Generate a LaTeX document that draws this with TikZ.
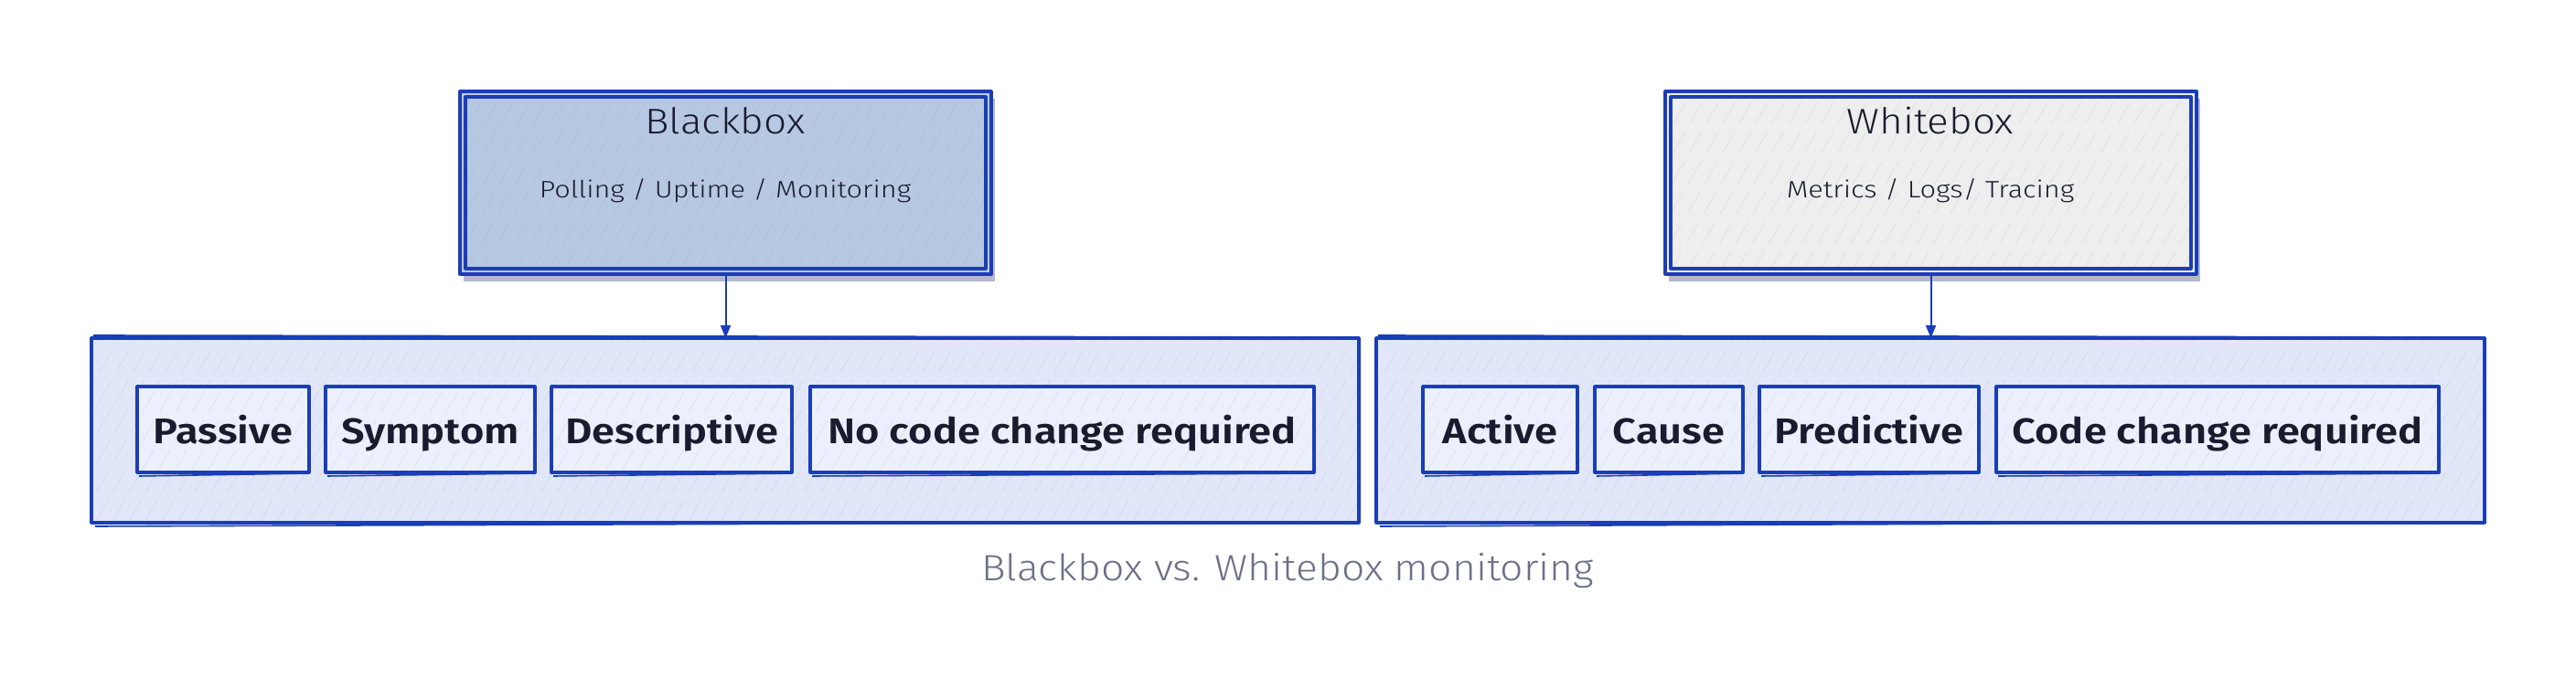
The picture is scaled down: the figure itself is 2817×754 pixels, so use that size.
\documentclass[tikz,border=0pt]{standalone}
\usepackage{fontspec}
\setmainfont{Fira Sans}
\newfontfamily\lblfont{Fira Sans SemiBold}[FakeStretch=1.16]
\newfontfamily\ttlfont{Fira Sans Light}[FakeStretch=1.13]
\newfontfamily\subfont{Fira Sans Light}[FakeStretch=1.18]
\newfontfamily\captfont{Fira Sans Light}[FakeStretch=1.11]
\usetikzlibrary{fit,arrows.meta}
\definecolor{strokec}{HTML}{1A3DB8}
\definecolor{bbfill}{HTML}{B7C8E2}
\definecolor{wbfill}{HTML}{EEEEEE}
\definecolor{cfill}{HTML}{E1E7F9}
\definecolor{ifill}{HTML}{EBF0FC}
\definecolor{shadowc}{HTML}{B4B8CC}
\definecolor{txtc}{HTML}{1B1B2F}
\definecolor{captc}{HTML}{6B7088}
\newcommand{\myhachure}[5]{%
  \begin{scope}
    \clip (#1,#2) rectangle (#3,#4);
    \pgfmathtruncatemacro{\hsa}{#1-320}
    \pgfmathtruncatemacro{\hsb}{#1-302}
    \foreach \i in {\hsa,\hsb,...,#3}
      \draw[draw=#5, line width=0.35pt, opacity=0.4, dash pattern=on 14pt off 5pt] (\i,#4) -- ++(300,-520);
  \end{scope}}
\begin{document}
\begin{tikzpicture}[x=0.5pt,y=-0.5pt,
  frame/.style={inner sep=0pt, outer sep=0pt},
  edge/.style={draw=strokec, line width=1.6pt, line join=round},
  thinedge/.style={draw=strokec, line width=0.8pt, line join=round},
  ttl/.style={font=\ttlfont\fontsize{19.5}{22}\selectfont, text=txtc, inner sep=0pt},
  sub/.style={font=\subfont\fontsize{13}{15}\selectfont, text=txtc, inner sep=0pt},
  lbl/.style={font=\lblfont\fontsize{19.5}{22}\selectfont, text=txtc, inner sep=0pt},
  capt/.style={font=\captfont\fontsize{20}{24}\selectfont, text=captc, inner sep=0pt},
  arr/.style={draw=strokec, line width=1pt, -{Triangle[length=7pt,width=5.5pt]}}]
\useasboundingbox (0,0) rectangle (2817,754);
\fill[white] (0,0) rectangle (2817,754);

% ---------- top boxes ----------
\fill[shadowc] (507,108) rectangle (1088,308);
\fill[shadowc] (1825,108) rectangle (2406,308);
\node[frame, fill=bbfill, fit={(503,100) (1084,300)}] (bb) {};
\node[frame, fill=wbfill, fit={(1821,100) (2402,300)}] (wb) {};
\myhachure{503}{100}{1084}{300}{white!45!bbfill!80!black}
\myhachure{1821}{100}{2402}{300}{wbfill!85!black}
\draw[edge] (bb.north west) rectangle (bb.south east);
\draw[edge] ([shift={(6,6)}]bb.north west) rectangle ([shift={(-6,-6)}]bb.south east);
\draw[edge] (wb.north west) rectangle (wb.south east);
\draw[edge] ([shift={(6,6)}]wb.north west) rectangle ([shift={(-6,-6)}]wb.south east);

\node[ttl, anchor=base] (bbt) at (793,147) {Blackbox};
\node[sub, anchor=base] (bbs) at (793,217) {Polling / Uptime / Monitoring};
\node[ttl, anchor=base] (wbt) at (2111,147) {Whitebox};
\node[sub, anchor=base] (wbs) at (2111,217) {Metrics / Logs/ Tracing};

% ---------- containers ----------
\node[frame, fill=cfill, fit={(100,370) (1486,572)}] (lc) {};
\node[frame, fill=cfill, fit={(1505,370) (2717,572)}] (rc) {};
\myhachure{100}{370}{1486}{572}{cfill!85!black}
\myhachure{1505}{370}{2717}{572}{cfill!85!black}
\draw[edge] (lc.north west) rectangle (lc.south east);
\draw[thinedge] ([shift={(2,-3)}]lc.north west) -- ([shift={(0,-1)}]lc.north east);
\draw[thinedge] ([shift={(4,4)}]lc.south west) -- ([shift={(-2,-1)}]lc.south east);
\draw[edge] (rc.north west) rectangle (rc.south east);
\draw[thinedge] ([shift={(2,-3)}]rc.north west) -- ([shift={(0,-1)}]rc.north east);
\draw[thinedge] ([shift={(4,4)}]rc.south west) -- ([shift={(-2,-1)}]rc.south east);

% ---------- inner boxes ----------
\foreach \nm/\xa/\xb in {p1/150/338, p2/356/585, p3/603/866, p4/886/1437,
                         q1/1556/1725, q2/1744/1906, q3/1924/2164, q4/2183/2667}{
  \node[frame, fill=ifill, fit={(\xa,423) (\xb,517)}] (\nm) {};
  \myhachure{\xa}{423}{\xb}{517}{ifill!85!black}
  \draw[edge] (\nm.north west) rectangle (\nm.south east);
  \draw[thinedge] ([shift={(2,4)}]\nm.south west) -- ([shift={(-1,1)}]\nm.south east);
}
\coordinate (bl) at (0,485);
\node[lbl, anchor=base] (t1) at (p1 |- bl) {Passive};
\node[lbl, anchor=base] (t2) at (p2 |- bl) {Symptom};
\node[lbl, anchor=base] (t3) at (p3 |- bl) {Descriptive};
\node[lbl, anchor=base] (t4) at (p4 |- bl) {No code change required};
\node[lbl, anchor=base] (u1) at (q1 |- bl) {Active};
\node[lbl, anchor=base] (u2) at (q2 |- bl) {Cause};
\node[lbl, anchor=base] (u3) at (q3 |- bl) {Predictive};
\node[lbl, anchor=base] (u4) at (q4 |- bl) {Code change required};

% ---------- arrows ----------
\draw[arr] (bb.south) -- (bb.south |- lc.north);
\draw[arr] (wb.south) -- (wb.south |- rc.north);

% ---------- caption ----------
\node[capt, anchor=base] (cap) at (1408,635) {Blackbox vs. Whitebox monitoring};
\end{tikzpicture}
\end{document}
